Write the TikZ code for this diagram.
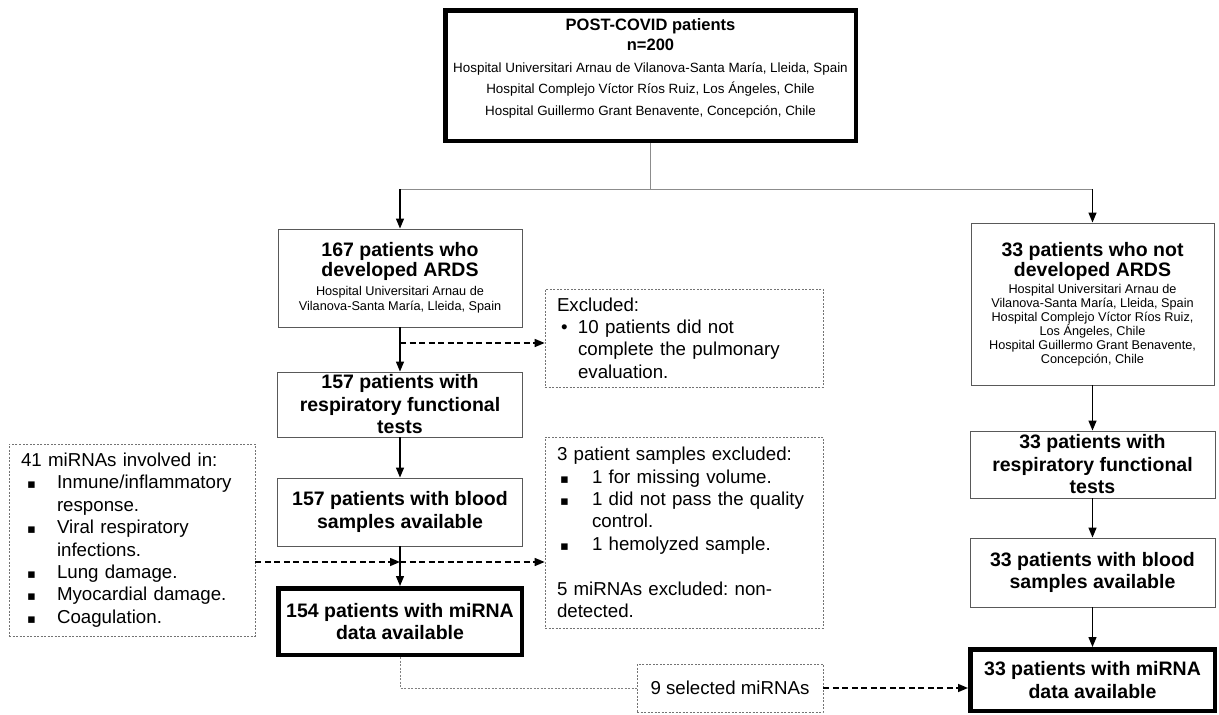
\documentclass[tikz,border=0pt]{standalone}
\usepackage{fontspec}
\setmainfont{Liberation Sans}
\newfontfamily\symfont{DejaVu Sans}
\usetikzlibrary{arrows.meta}
\newcommand\sqbul[2]{\makebox[#2][l]{\hspace*{#1}{\symfont\fontsize{13}{13}\selectfont ▪}}}
\newcommand\rdbul[2]{\makebox[#2][l]{\hspace*{#1}•}}
\newcommand\smallhosp[1]{{\fontsize{12.7}{14}\selectfont\mdseries #1}}
\newcommand\tophosp[1]{{\fontsize{13.4}{21.5}\selectfont\mdseries #1}}
\begin{document}
\frenchspacing
\begin{tikzpicture}[x=1pt,y=-1pt,
  solidbox/.style={draw=black!65, line width=0.9pt, inner sep=0pt, align=center},
  thickbox/.style={draw=black, line width=4.5pt, inner sep=0pt, align=center},
  notebox/.style={draw=black!55, line width=0.7pt, dash pattern=on 2pt off 1.5pt, inner ysep=0pt},
  arr/.style={line width=1.3pt, -{Triangle[length=10pt,width=8pt]}},
  darr/.style={line width=1.5pt, dash pattern=on 6pt off 3.5pt, -{Triangle[length=10pt,width=8pt]}},
  link/.style={draw=black!45, line width=0.8pt},
  dlink/.style={draw=black!50, line width=0.7pt, dash pattern=on 2pt off 1.5pt},
  ttl/.style={font=\fontsize{19.5}{22.5}\selectfont\bfseries},
  body/.style={font=\fontsize{18.7}{22.4}\selectfont},
]
\useasboundingbox (0,0) rectangle (1219,715);
\fill[white] (0,0) rectangle (1219,715);

% top box
\node[thickbox, font=\fontsize{16.5}{20}\selectfont\bfseries, text depth=17pt,
      minimum width=410.5pt, minimum height=130.5pt] (top) at (650.5,75.5)
 {POST-COVID patients\\ n=200\\[2pt]
  \tophosp{Hospital Universitari Arnau de Vilanova-Santa María, Lleida, Spain}\\[1.5pt]
  \tophosp{Hospital Complejo Víctor Ríos Ruiz, Los Ángeles, Chile}\\[1.5pt]
  \tophosp{Hospital Guillermo Grant Benavente, Concepción, Chile}};

% left chain
\node[solidbox, font=\fontsize{19.5}{20}\selectfont\bfseries,
      minimum width=244pt, minimum height=98pt] (n167) at (400,278)
 {167 patients who\\ developed ARDS\\[-1pt]
  \smallhosp{Hospital Universitari Arnau de}\\[-5pt]
  \smallhosp{Vilanova-Santa María, Lleida, Spain}};
\node[solidbox, ttl, minimum width=245pt, minimum height=65pt] (resp157) at (400,404.5)
 {157 patients with\\ respiratory functional\\ tests};
\node[solidbox, ttl, minimum width=245pt, minimum height=68pt] (blood157) at (400,512)
 {157 patients with blood\\ samples available};
\node[thickbox, ttl, minimum width=243.5pt, minimum height=66.5pt] (m154) at (400,621.5)
 {154 patients with miRNA\\ data available};

% right chain
\node[solidbox, font=\fontsize{19.5}{20}\selectfont\bfseries,
      minimum width=243pt, minimum height=162pt] (not33) at (1092.5,304)
 {33 patients who not\\ developed ARDS\\[-3pt]
  \smallhosp{Hospital Universitari Arnau de}\\[-6pt]
  \smallhosp{Vilanova-Santa María, Lleida, Spain}\\[-6pt]
  \smallhosp{Hospital Complejo Víctor Ríos Ruiz,}\\[-6pt]
  \smallhosp{Los Ángeles, Chile}\\[-6pt]
  \smallhosp{Hospital Guillermo Grant Benavente,}\\[-6pt]
  \smallhosp{Concepción, Chile}};
\node[solidbox, ttl, minimum width=245pt, minimum height=67pt] (resp33) at (1092.5,464.5)
 {33 patients with\\ respiratory functional\\ tests};
\node[solidbox, ttl, minimum width=245pt, minimum height=69pt] (blood33) at (1092.5,572.5)
 {33 patients with blood\\ samples available};
\node[thickbox, ttl, minimum width=244.5pt, minimum height=61.5pt] (m33) at (1092.5,680)
 {33 patients with miRNA\\ data available};

% note boxes
\node[notebox, body, inner xsep=12pt, text width=254pt, align=left, minimum height=98pt] (excl) at (684,338)
 {Excluded:\\
  \rdbul{4pt}{21pt}10 patients did not\\
  \hspace*{21pt}complete the pulmonary\\
  \hspace*{21pt}evaluation.};
\node[notebox, body, inner xsep=12pt, text width=254pt, align=left, minimum height=191pt] (samp) at (684,532.5)
 {3 patient samples excluded:\\
  \sqbul{3pt}{35pt}1 for missing volume.\\
  \sqbul{3pt}{35pt}1 did not pass the quality\\
  \hspace*{35pt}control.\\
  \sqbul{3pt}{35pt}1 hemolyzed sample.\\[22.4pt]
  5 miRNAs excluded: non-\\
  detected.};
\node[notebox, body, inner xsep=12pt, text width=222pt, align=left, minimum height=192pt] (mir41) at (132,540)
 {41 miRNAs involved in:\\
  \sqbul{6pt}{36pt}Inmune/inflammatory\\
  \hspace*{36pt}response.\\
  \sqbul{6pt}{36pt}Viral respiratory\\
  \hspace*{36pt}infections.\\
  \sqbul{6pt}{36pt}Lung damage.\\
  \sqbul{6pt}{36pt}Myocardial damage.\\
  \sqbul{6pt}{36pt}Coagulation.};
\node[notebox, body, inner xsep=0pt, minimum width=186pt, minimum height=48pt] (sel9) at (730,688)
 {9 selected miRNAs};

% connectors
\coordinate (split) at (650.5,189);
\coordinate (splitL) at (400,189);
\coordinate (splitR) at (1092.5,189);
\draw[link] (top.south) -- (split);
\draw[link] (splitL) -- (splitR);
\draw[arr] (splitL) -- (n167.north);
\draw[arr] (splitR) -- (not33.north);
\draw[arr] (n167.south) -- (resp157.north);
\draw[arr] (resp157.south) -- (blood157.north);
\draw[arr] (blood157.south) -- (m154.north);
\draw[arr] (not33.south) -- (resp33.north);
\draw[arr] (resp33.south) -- (blood33.north);
\draw[arr] (blood33.south) -- (m33.north);

\coordinate (exo) at (400,343);
\draw[darr] (exo) -- (excl.west |- exo);
\coordinate (mid) at (400,562);
\draw[darr] (mir41.east |- mid) -- (mid);
\draw[darr] (mid) -- (samp.west |- mid);

\draw[dlink] (m154.south) |- (sel9.west);
\draw[darr] (sel9.east) -- (m33.west |- sel9.east);
\end{tikzpicture}
\end{document}
